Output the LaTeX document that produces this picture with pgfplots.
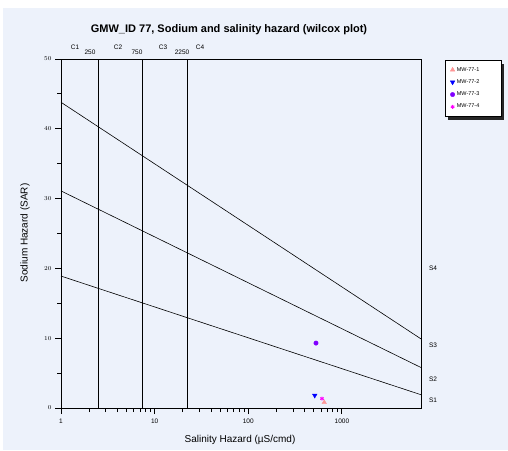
\documentclass[border=0pt]{standalone}
\usepackage{pgfplots}
\pgfplotsset{compat=1.18}
\usepackage{fontspec}
\setmainfont{Liberation Sans}
\usetikzlibrary{shadows}
\definecolor{bgblue}{RGB}{237,242,251}
\definecolor{mw1}{RGB}{255,150,150}
\definecolor{mw2}{RGB}{0,0,255}
\definecolor{mw3}{RGB}{128,0,255}
\definecolor{mw4}{RGB}{255,0,255}
\begin{document}
\begin{tikzpicture}[x=1pt,y=1pt]
\path[use as bounding box] (0,0) rectangle (508,450);
\fill[bgblue] (3,0) rectangle (508,442);
\begin{axis}[
  at={(61pt,42pt)}, anchor=south west,
  scale only axis, width=360pt, height=349pt,
  xmode=log, xmin=1, xmax=7000, ymin=0, ymax=50,
  xtick={1,10,100,1000}, xticklabels={1,10,100,1000},
  ytick={0,10,20,30,40,50}, minor y tick num=1,
  tick align=outside, xtick pos=bottom, ytick pos=left,
  major tick length=6pt, minor tick length=4pt,
  tick style={black, line width=0.8pt},
  axis line style={black, line width=0.9pt},
  ticklabel style={font=\fontsize{6.5}{8}\selectfont},
  xticklabel style={yshift=-1pt},
  clip=false,
  legend style={at={(1.067,0.997)}, anchor=north west, draw=black, fill=white,
    font=\fontsize{5.5}{6.5}\selectfont, row sep=3pt,
    inner xsep=5pt, inner ysep=5pt,
    nodes={text width=37pt},
    drop shadow={shadow xshift=3pt, shadow yshift=-4pt, opacity=1, fill=black!85}},
  legend cell align=left,
]
% salinity class boundaries
\addplot[black, line width=0.9pt, forget plot] coordinates {(2.5,0) (2.5,50)};
\addplot[black, line width=0.9pt, forget plot] coordinates {(7.5,0) (7.5,50)};
\addplot[black, line width=0.9pt, forget plot] coordinates {(22.5,0) (22.5,50)};
% sodium class boundaries
\addplot[black, line width=0.6pt, forget plot] coordinates {(1,18.9) (7000,1.9)};
\addplot[black, line width=0.6pt, forget plot] coordinates {(1,31.1) (7000,5.8)};
\addplot[black, line width=0.6pt, forget plot] coordinates {(1,43.8) (7000,9.9)};
% samples
\addplot[only marks, mark=triangle*, mark size=2.6pt, color=mw1] coordinates {(648,0.8)};
\addplot[only marks, mark=triangle*, mark options={rotate=180}, mark size=2.6pt, color=mw2] coordinates {(513,1.8)};
\addplot[only marks, mark=*, mark size=2.2pt, color=mw3] coordinates {(529,9.3)};
\addplot[only marks, mark=asterisk, mark size=2pt, line width=0.9pt, color=mw4] coordinates {(613,1.35)};
\legend{MW-77-1,MW-77-2,MW-77-3,MW-77-4}
\end{axis}
% title and labels
\node[font=\fontsize{11}{13}\selectfont\bfseries] at (229,420) {GMW\_ID 77, Sodium and salinity hazard (wilcox plot)};
\node[rotate=90, font=\fontsize{10}{12}\selectfont] at (25,217) {Sodium Hazard (SAR)};
\node[font=\fontsize{10}{12}\selectfont] at (240,10) {Salinity Hazard (µS/cmd)};
\begin{scope}[every node/.style={font=\fontsize{6.5}{8}\selectfont, inner sep=0pt}]
\node at (75,403) {C1};
\node at (90,398) {250};
\node at (118,403) {C2};
\node at (137,398) {750};
\node at (163,403) {C3};
\node at (182,398) {2250};
\node at (200,403) {C4};
\node at (433,182) {S4};
\node at (433,105) {S3};
\node at (433,71) {S2};
\node at (433,50) {S1};
\end{scope}
\end{tikzpicture}
\end{document}
